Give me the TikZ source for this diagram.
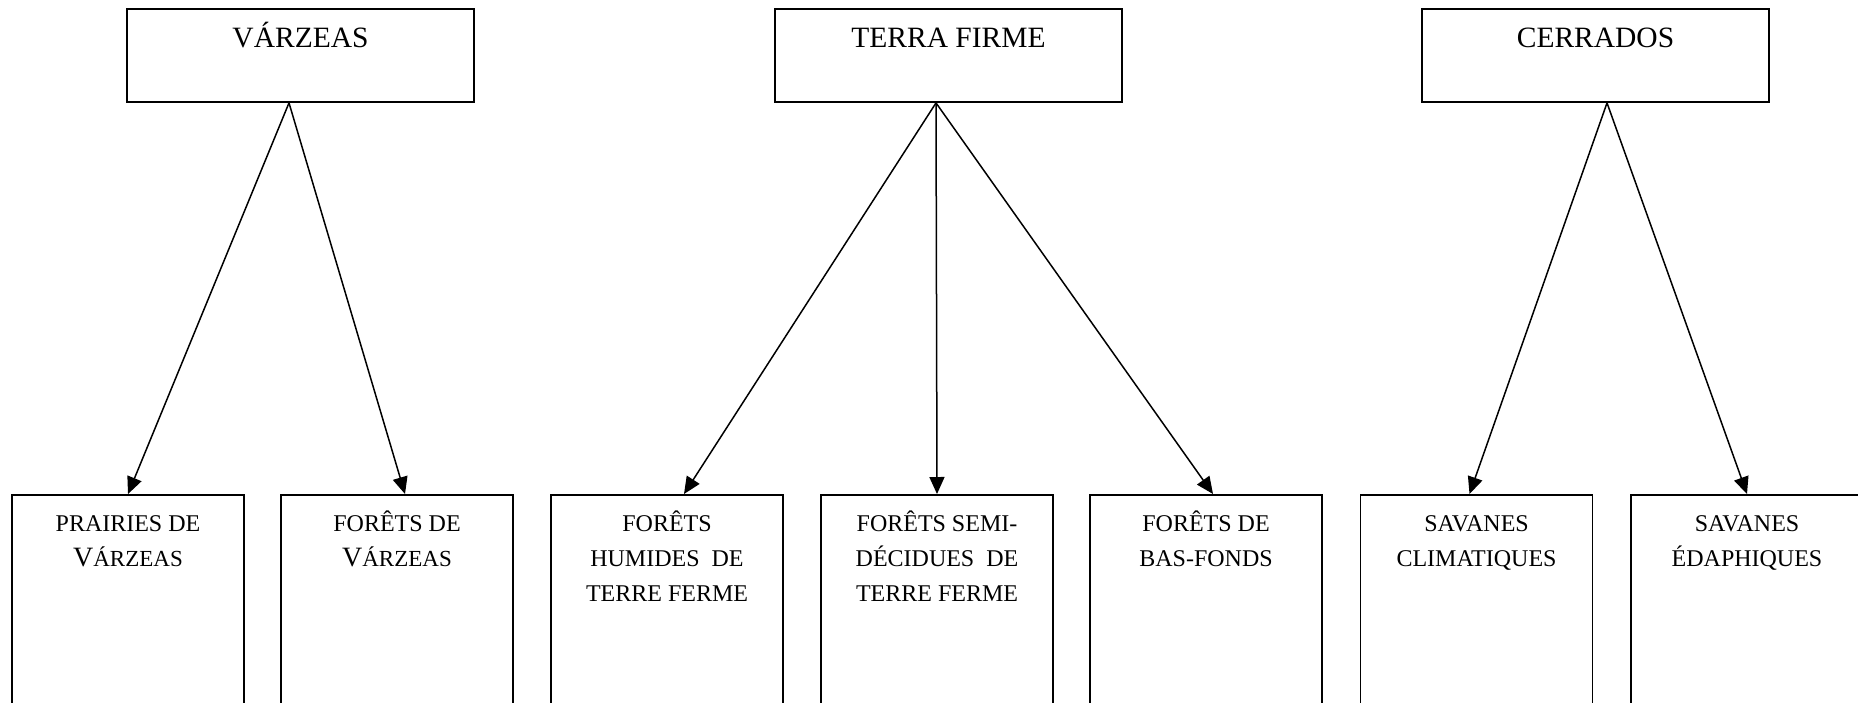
\documentclass[tikz,border=0pt]{standalone}
\usepackage{fontspec}
\setmainfont{Liberation Serif}
\usetikzlibrary{arrows.meta}
\begin{document}
\begin{tikzpicture}[x=1pt,y=-1pt,
 topbox/.style={draw, line width=1.8pt, minimum width=347pt, minimum height=93pt, inner sep=0pt},
 lowbox/.style={draw, line width=1.8pt, minimum width=232pt, minimum height=260pt, anchor=north, inner sep=0pt},
 toptext/.style={anchor=base, inner sep=0pt, font=\fontsize{29.5}{35}\selectfont},
 lowtext/.style={anchor=north, inner sep=0pt, align=center, font=\fontsize{24}{35}\selectfont},
 arr/.style={line width=1.5pt, -{Triangle[length=17pt,width=15pt]}}]
\useasboundingbox (0,0) rectangle (1858,702);
\clip (0,0) rectangle (1858,702);
\fill[white] (0,0) rectangle (1858,702);
% top boxes
\node[topbox] (v) at (300.5,55.5) {};
\node[topbox] (t) at (948.5,55.5) {};
\node[topbox] (c) at (1595.5,55.5) {};
\node[toptext] (vt) at (300.5,47) {VÁRZEAS};
\node[toptext] (tt) at (948.5,47) {TERRA FIRME};
\node[toptext] (ct) at (1595.5,47) {CERRADOS};
% bottom boxes
\node[lowbox] (b1) at (128,494) {};
\node[lowbox] (b2) at (397,494) {};
\node[lowbox] (b3) at (667,494) {};
\node[lowbox] (b4) at (937,494) {};
\node[lowbox] (b5) at (1206,494) {};
\node[lowbox] (b6) at (1476.5,494) {};
\node[lowbox] (b7) at (1747,494) {};
\node[lowtext] (t1) at (128,506.5) {\rule{0pt}{25pt}PRAIRIES DE\\{\fontsize{28}{35}\selectfont V}{\fontsize{23}{35}\selectfont ÁRZEAS}};
\node[lowtext] (t2) at (397,506.5) {\rule{0pt}{25pt}FORÊTS DE\\{\fontsize{28}{35}\selectfont V}{\fontsize{23}{35}\selectfont ÁRZEAS}};
\node[lowtext] (t3) at (667,506.5) {\rule{0pt}{25pt}FORÊTS\\HUMIDES\ \ DE\\TERRE FERME};
\node[lowtext] (t4) at (937,506.5) {\rule{0pt}{25pt}FORÊTS SEMI-\\DÉCIDUES\ \ DE\\TERRE FERME};
\node[lowtext] (t5) at (1206,506.5) {\rule{0pt}{25pt}FORÊTS DE\\BAS-FONDS};
\node[lowtext] (t6) at (1476.5,506.5) {\rule{0pt}{25pt}SAVANES\\CLIMATIQUES};
\node[lowtext] (t7) at (1747,506.5) {\rule{0pt}{25pt}SAVANES\\ÉDAPHIQUES};
% arrows
\draw[arr] ([xshift=-11.5pt]v.south) -- (b1.north);
\draw[arr] ([xshift=-11.5pt]v.south) -- ([xshift=8pt]b2.north);
\draw[arr] ([xshift=-12.5pt]t.south) -- ([xshift=17pt]b3.north);
\draw[arr] ([xshift=-12.5pt]t.south) -- (b4.north);
\draw[arr] ([xshift=-12.5pt]t.south) -- ([xshift=7pt]b5.north);
\draw[arr] ([xshift=11.5pt]c.south) -- ([xshift=-7pt]b6.north);
\draw[arr] ([xshift=11.5pt]c.south) -- (b7.north);
\end{tikzpicture}
\end{document}
